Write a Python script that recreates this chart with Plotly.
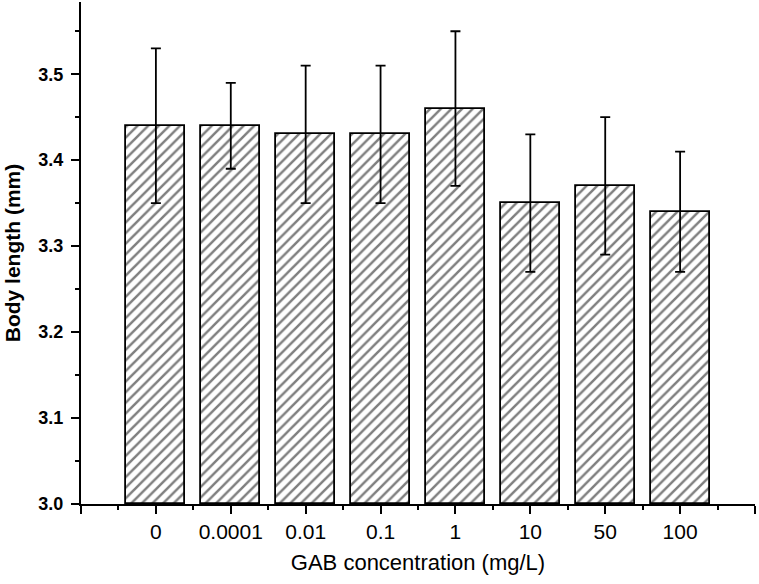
import plotly.graph_objects as go

categories = ["0", "0.0001", "0.01", "0.1", "1", "10", "50", "100"]
means = [3.44, 3.44, 3.43, 3.43, 3.46, 3.35, 3.37, 3.34]
errors = [0.09, 0.05, 0.08, 0.08, 0.09, 0.08, 0.08, 0.07]

xpos = list(range(len(categories)))
FONT = "Liberation Sans, Arial, sans-serif"

fig = go.Figure()
fig.add_trace(go.Bar(
    x=xpos, y=[m - 3.0 for m in means], base=3.0,
    width=0.79,
    marker=dict(color="white",
                line=dict(color="black", width=1.8),
                pattern=dict(shape="/", fgcolor="black", bgcolor="white",
                             size=7.5, solidity=0.33)),
    error_y=dict(type="data", array=errors, color="black",
                 thickness=1.8, width=5),
    hoverinfo="skip",
))

tickvals = [-1] + xpos + [len(categories)]
ticktext = [""] + categories + [""]

fig.update_layout(
    width=759, height=584,
    margin=dict(l=81, r=4, t=2, b=80),
    paper_bgcolor="white", plot_bgcolor="white",
    showlegend=False,
    bargap=0,
    font=dict(family=FONT, color="black"),
    xaxis=dict(
        range=[-1, len(categories)],
        tickmode="array", tickvals=tickvals, ticktext=ticktext,
        ticks="outside", ticklen=8, tickwidth=2, tickcolor="black",
        showline=True, linecolor="black", linewidth=2,
        showgrid=False, zeroline=False,
        tickfont=dict(size=21, family=FONT),
        ticklabelstandoff=0,
        minor=dict(tickvals=[i - 0.5 for i in range(len(categories) + 2)],
                   ticks="outside", ticklen=4, tickwidth=2, tickcolor="black",
                   showgrid=False),
        title=dict(text="GAB concentration (mg/L)", font=dict(size=22, family=FONT),
                   standoff=12),
    ),
    yaxis=dict(
        range=[3.0, 3.584],
        tick0=3.0, dtick=0.1, tickformat=".1f",
        ticks="outside", ticklen=8, tickwidth=2, tickcolor="black",
        showline=True, linecolor="black", linewidth=2,
        showgrid=False, zeroline=False,
        tickfont=dict(size=18, family=FONT, weight="bold"),
        ticklabelstandoff=4,
        minor=dict(dtick=0.05, ticks="outside", ticklen=4, tickwidth=2,
                   tickcolor="black", showgrid=False),
        title=dict(text="Body length (mm)", font=dict(size=21, family=FONT, weight="bold"),
                   standoff=12),
    ),
)

fig.write_html("out.html", config={"displayModeBar": False},
               post_script="document.body.style.margin='0';")
